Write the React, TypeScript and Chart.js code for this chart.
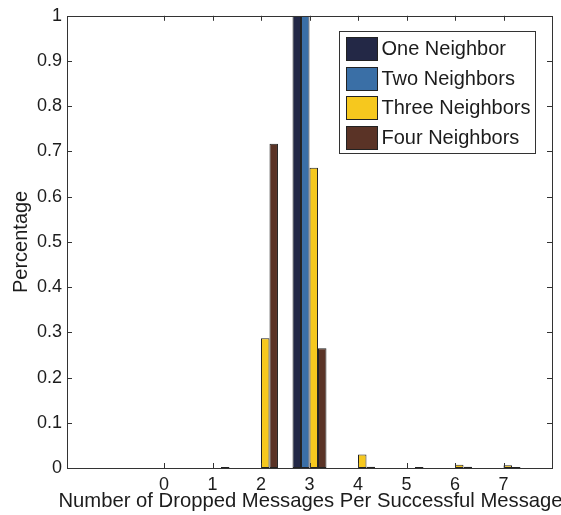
import { useEffect, useRef } from 'react';
import { Chart, registerables } from 'chart.js';

Chart.register(...registerables);

const categories = [0, 1, 2, 3, 4, 5, 6, 7];
const xTickLabels = ['0', '1', '2', '3', '4', '5', '6', '7'];
const yTicks = [0, 0.1, 0.2, 0.3, 0.4, 0.5, 0.6, 0.7, 0.8, 0.9, 1];
const yTickLabels = ['0', '0.1', '0.2', '0.3', '0.4', '0.5', '0.6', '0.7', '0.8', '0.9', '1'];
const seriesLabels = ['One Neighbor', 'Two Neighbors', 'Three Neighbors', 'Four Neighbors'];
const oneNeighbor = [0, 0, 0, 1.0, 0, 0, 0, 0];
const twoNeighbors = [0, 0, 0, 1.0, 0, 0, 0, 0];
const threeNeighbors = [0, 0, 0.287, 0.664, 0.03, 0, 0.007, 0.006];
const fourNeighbors = [0, 0.002, 0.717, 0.265, 0.003, 0.002, 0.003, 0.002];
const seriesColors = ['#232846', '#3a6fa6', '#f6c81e', '#5a3326'];
const xTitle = 'Number of Dropped Messages Per Successful Message';

const FONT = "'Liberation Sans', Arial, Helvetica, sans-serif";
const TEXT = '#1c1c1c';

const framePlugin = {
  id: 'matlabFrame',
  afterDatasetsDraw(chart: any) {
    const { ctx, chartArea } = chart;
    const { left, right, top, bottom } = chartArea;
    const xs = chart.scales.x;
    const ys = chart.scales.y;
    ctx.save();
    ctx.strokeStyle = '#333';
    ctx.lineWidth = 1;
    ctx.beginPath();
    const tl = 5;
    yTicks.forEach((v) => {
      const y = Math.round(ys.getPixelForValue(v)) + 0.5;
      ctx.moveTo(left, y);
      ctx.lineTo(left + tl, y);
      ctx.moveTo(right, y);
      ctx.lineTo(right - tl, y);
    });
    categories.forEach((v) => {
      const x = Math.round(xs.getPixelForValue(v)) + 0.5;
      ctx.moveTo(x, bottom);
      ctx.lineTo(x, bottom - tl);
      ctx.moveTo(x, top);
      ctx.lineTo(x, top + tl);
    });
    ctx.stroke();
    ctx.strokeRect(Math.round(left) + 0.5, Math.round(top) + 0.5, Math.round(right - left), Math.round(bottom - top));

    // x-axis title (allowed to overhang the plot like the original)
    ctx.font = `20.25px ${FONT}`;
    ctx.fillStyle = TEXT;
    ctx.textAlign = 'center';
    ctx.textBaseline = 'middle';
    ctx.fillText(xTitle, (left + right) / 2 + 1, 501);

    // legend
    ctx.font = `20px ${FONT}`;
    const datasets = chart.data.datasets;
    let maxW = 0;
    datasets.forEach((d: any) => {
      maxW = Math.max(maxW, ctx.measureText(d.label).width);
    });
    const boxW = Math.ceil(maxW + 47);
    const rowH = 29.5;
    const boxH = Math.round(datasets.length * rowH + 4);
    const bx = Math.round(right - 17 - boxW) + 0.5;
    const by = Math.round(top + 15) + 0.5;
    ctx.fillStyle = '#fff';
    ctx.fillRect(bx, by, boxW, boxH);
    ctx.strokeStyle = '#333';
    ctx.strokeRect(bx, by, boxW, boxH);
    datasets.forEach((d: any, i: number) => {
      const cy = by + 17 + i * rowH;
      ctx.fillStyle = d.backgroundColor;
      ctx.fillRect(bx + 7, Math.round(cy - 11.5), 31, 23);
      ctx.strokeStyle = '#222';
      ctx.strokeRect(bx + 7, Math.round(cy - 11.5) + 0.5, 31, 23);
      ctx.fillStyle = TEXT;
      ctx.textAlign = 'left';
      ctx.textBaseline = 'middle';
      ctx.fillText(d.label, bx + 42, cy + 1);
    });
    ctx.restore();
  },
};

export default function App() {
  const canvasRef = useRef<HTMLCanvasElement | null>(null);

  useEffect(() => {
    document.body.style.margin = '0';
    const canvas = canvasRef.current;
    if (!canvas) return;
    const seriesValues = [oneNeighbor, twoNeighbors, threeNeighbors, fourNeighbors];
    const chart = new Chart(canvas, {
      type: 'bar',
      data: {
        datasets: seriesValues.map((vals, i) => ({
          label: seriesLabels[i],
          data: categories.map((c, j) => ({ x: c, y: vals[j] })),
          backgroundColor: seriesColors[i],
          borderColor: '#222',
          borderWidth: 1,
          borderSkipped: false,
          categoryPercentage: 0.7,
          barPercentage: 1.0,
        })),
      },
      options: {
        animation: false,
        responsive: false,
        maintainAspectRatio: false,
        layout: { padding: { top: 12, right: 9, left: 0, bottom: 0 } },
        plugins: {
          legend: { display: false },
          tooltip: { enabled: false },
        },
        scales: {
          x: {
            type: 'linear',
            min: -2,
            max: 8,
            offset: false,
            grid: { display: false, offset: false, drawTicks: false },
            border: { display: false },
            afterBuildTicks: (s: any) => {
              s.ticks = categories.map((v) => ({ value: v }));
            },
            ticks: {
              autoSkip: false,
              maxRotation: 0,
              padding: 6,
              color: TEXT,
              font: { family: FONT, size: 18 },
              callback: (_v: any, i: number) => xTickLabels[i],
            },
            title: { display: false },
            afterFit: (s: any) => {
              s.height = 47;
            },
          },
          y: {
            type: 'linear',
            min: 0,
            max: 1,
            grid: { display: false, drawTicks: false },
            border: { display: false },
            afterBuildTicks: (s: any) => {
              s.ticks = yTicks.map((v) => ({ value: v }));
            },
            ticks: {
              padding: 5,
              color: TEXT,
              font: { family: FONT, size: 18 },
              callback: (_v: any, i: number) => yTickLabels[i],
            },
            title: {
              display: true,
              text: 'Percentage',
              color: TEXT,
              font: { family: FONT, size: 20 },
              padding: { top: 9, bottom: 0 },
            },
            afterFit: (s: any) => {
              s.width = 67;
            },
          },
        },
      } as any,
      plugins: [framePlugin],
    });
    return () => chart.destroy();
  }, []);

  return (
    <div style={{ width: 561, height: 515 }}>
      <canvas ref={canvasRef} width={561} height={515} />
    </div>
  );
}
